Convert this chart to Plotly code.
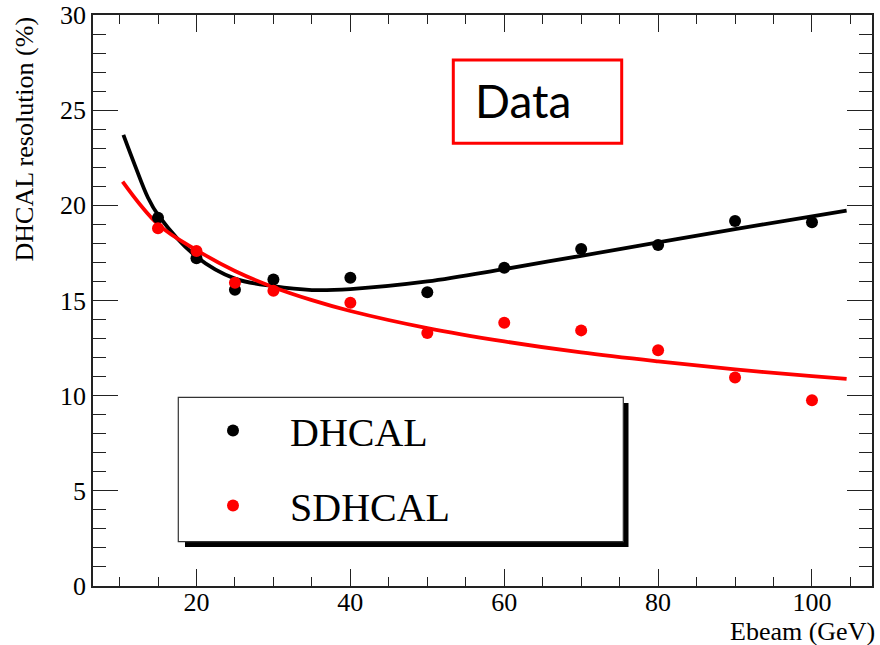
import plotly.graph_objects as go

# ---- data ----
ebeam = [15, 20, 25, 30, 40, 50, 60, 70, 80, 90, 100]
dhcal = [19.35, 17.22, 15.57, 16.10, 16.19, 15.43, 16.72, 17.70, 17.91, 19.18, 19.11]
sdhcal = [18.80, 17.60, 15.93, 15.51, 14.88, 13.29, 13.83, 13.43, 12.39, 10.96, 9.76]

fit_x_dhcal = [10.5, 12, 13.7, 15, 20, 25, 30, 35, 40, 50, 60, 70, 80, 90, 100, 104.5]
fit_y_dhcal = [23.7, 22.1, 20.4, 19.5, 17.3, 16.15, 15.75, 15.55, 15.6, 16.0, 16.65, 17.35, 18.05, 18.75, 19.42, 19.72]
fit_x_sdhcal = [10.4, 15, 20, 25, 30, 35, 40, 50, 60, 70, 80, 90, 100, 104.5]
fit_y_sdhcal = [21.24, 19.0, 17.65, 16.55, 15.7, 15.02, 14.45, 13.55, 12.85, 12.27, 11.8, 11.38, 11.03, 10.88]

x_range = [6.55, 107.8]
y_range = [0, 30]
x_ticks = [20, 40, 60, 80, 100]
y_ticks = [0, 5, 10, 15, 20, 25, 30]

serif = "Liberation Serif, Times New Roman, serif"

fig = go.Figure()

fig.add_trace(go.Scatter(x=fit_x_dhcal, y=fit_y_dhcal, mode="lines",
                         line=dict(color="black", width=3.8, shape="spline", smoothing=1),
                         showlegend=False, hoverinfo="skip"))
fig.add_trace(go.Scatter(x=fit_x_sdhcal, y=fit_y_sdhcal, mode="lines",
                         line=dict(color="#ff0000", width=3.8, shape="spline", smoothing=1),
                         showlegend=False, hoverinfo="skip"))
fig.add_trace(go.Scatter(x=ebeam, y=dhcal, mode="markers", name="DHCAL",
                         marker=dict(color="black", size=12), legendgroup="a"))
fig.add_trace(go.Scatter(x=ebeam, y=sdhcal, mode="markers", name="SDHCAL",
                         marker=dict(color="#ff0000", size=12), legendgroup="b"))

L, R, T, B = 93, 8, 15, 59
W, H = 880, 645
pw, ph = W - L - R, H - T - B

def px_x(p):
    return (p - L) / pw

def px_y(p):
    return (H - B - p) / ph

shapes = [
    # legend shadow
    dict(type="rect", xref="paper", yref="paper",
         x0=px_x(185), x1=px_x(628.5), y0=px_y(547), y1=px_y(403),
         fillcolor="black", line=dict(width=0), layer="above"),
    # legend box
    dict(type="rect", xref="paper", yref="paper",
         x0=px_x(178.3), x1=px_x(623.3), y0=px_y(541.7), y1=px_y(397.3),
         fillcolor="white", line=dict(color="#333", width=1.2), layer="above"),
    # Data box
    dict(type="rect", xref="paper", yref="paper",
         x0=px_x(453.3), x1=px_x(621.7), y0=px_y(143.3), y1=px_y(60),
         fillcolor="white", line=dict(color="#ff0000", width=3), layer="above"),
]

annotations = [
    dict(text="Data", xref="paper", yref="paper", x=px_x(473), y=px_y(100),
         xanchor="left", yanchor="middle", showarrow=False,
         font=dict(family="Lato, Open Sans, sans-serif", size=46, color="black")),
    dict(text="DHCAL resolution (%)", xref="paper", yref="paper",
         x=px_x(24), y=1.0, xanchor="center", yanchor="top", textangle=-90,
         showarrow=False, font=dict(family=serif, size=26, color="black")),
    dict(text="Ebeam (GeV)", xref="paper", yref="paper",
         x=1.0, y=px_y(631), xanchor="right", yanchor="middle", xshift=5,
         showarrow=False, font=dict(family=serif, size=26, color="black")),
]

fig.update_layout(
    width=W, height=H,
    margin=dict(l=L, r=R, t=T, b=B),
    paper_bgcolor="white", plot_bgcolor="white",
    font=dict(family=serif, size=26, color="black"),
    shapes=shapes, annotations=annotations,
    showlegend=True,
    legend=dict(x=px_x(176), y=px_y(398), xanchor="left", yanchor="top",
                bgcolor="rgba(0,0,0,0)", borderwidth=0,
                font=dict(family=serif, size=40, color="black"),
                itemwidth=104, tracegroupgap=20, traceorder="grouped"),
    xaxis=dict(range=x_range, tickvals=x_ticks, ticks="inside", ticklen=17,
               tickwidth=1, tickcolor="#222", showline=True, linecolor="#222",
               linewidth=1.5, mirror="ticks", showgrid=False, zeroline=False,
               automargin=False, ticklabelstandoff=-8,
               minor=dict(dtick=5, tick0=0, ticks="inside", ticklen=9,
                          tickwidth=1, tickcolor="#222", showgrid=False),
               tickfont=dict(family=serif, size=26, color="black")),
    yaxis=dict(range=y_range, tickvals=y_ticks, ticks="inside", ticklen=25,
               tickwidth=1, tickcolor="#222", showline=True, linecolor="#222",
               linewidth=1.5, mirror="ticks", showgrid=False, zeroline=False,
               automargin=False,
               minor=dict(dtick=1, tick0=0, ticks="inside", ticklen=13,
                          tickwidth=1, tickcolor="#222", showgrid=False),
               tickfont=dict(family=serif, size=26, color="black")),
)

fig.write_html("out.html")
